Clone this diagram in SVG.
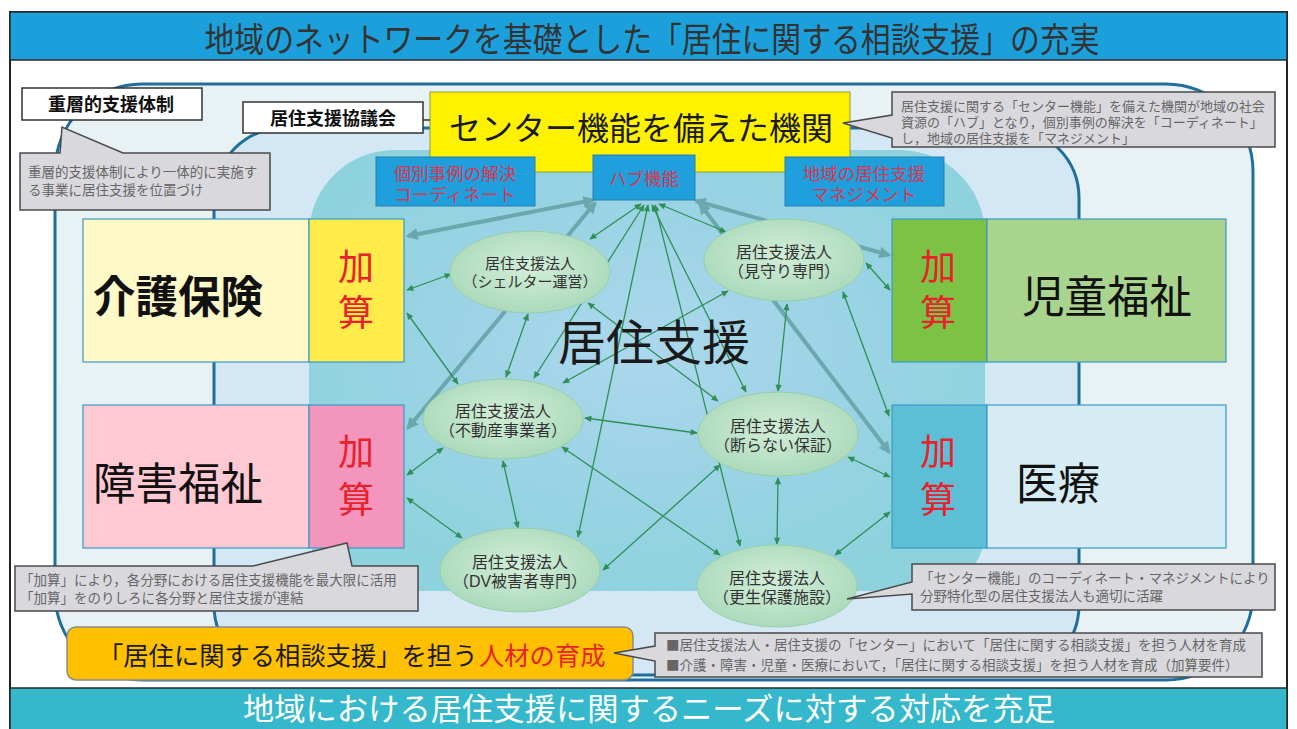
<svg xmlns="http://www.w3.org/2000/svg" width="1297" height="729" viewBox="0 0 1297 729">
<defs>
<style>
text{font-family:"Liberation Sans","Noto Sans CJK JP",sans-serif;}
.cl{fill:#d9d9dd;stroke:#4a4a4a;stroke-width:1.5}
.ct{font-size:13.5px;fill:#666}
.el{fill:url(#eg);stroke:#98cfac;stroke-width:1}
.et{font-size:16px;fill:#333;text-anchor:middle}
.bb{fill:#1f9fdc;stroke:#2a7fb0;stroke-width:1}
.bt{font-size:17.5px;fill:#d93651;text-anchor:middle}
.g{stroke:#2f8f57;stroke-width:1.3;fill:none;marker-start:url(#ga);marker-end:url(#ga)}
.t{stroke:#6ba8ae;stroke-width:4;fill:none;marker-start:url(#ta);marker-end:url(#ta)}
.ks{font-size:36px;fill:#e8222c;text-anchor:middle}
.cat{font-size:44px;fill:#111;text-anchor:middle}
.kb{stroke:#3b9ac6;stroke-width:1.2}
.wb{fill:#fff;stroke:#333;stroke-width:1.5}
</style>
<radialGradient id="eg" cx="0.5" cy="0.45" r="0.6">
<stop offset="0" stop-color="#d2eed9"/>
<stop offset="1" stop-color="#a8d8b8"/>
</radialGradient>
<radialGradient id="tg" cx="0.5" cy="0.45" r="0.6">
<stop offset="0" stop-color="#acd7ec"/>
<stop offset="0.6" stop-color="#98d3e3"/>
<stop offset="1" stop-color="#8dd2dc"/>
</radialGradient>
<marker id="ga" viewBox="0 0 10 10" refX="9" refY="5" markerWidth="8" markerHeight="7" markerUnits="userSpaceOnUse" orient="auto-start-reverse">
<path d="M0,0.5 L10,5 L0,9.5 z" fill="#2f8f57"/>
</marker>
<marker id="ta" viewBox="0 0 10 10" refX="8" refY="5" markerWidth="14" markerHeight="12" markerUnits="userSpaceOnUse" orient="auto-start-reverse">
<path d="M0,0 L10,5 L0,10 z" fill="#6ba8ae"/>
</marker>
</defs>

<rect x="0" y="0" width="1297" height="729" fill="#fff"/>
<rect x="10" y="12" width="1277" height="730" fill="#fff" stroke="#222" stroke-width="2"/>

<g id="header">
<rect x="10" y="12" width="1277" height="48" fill="#1ba0dc" stroke="#2a2a2a" stroke-width="1.5"/>
<text x="652" y="52" font-size="34" fill="#333" text-anchor="middle" textLength="895" lengthAdjust="spacingAndGlyphs">地域のネットワークを基礎とした「居住に関する相談支援」の充実</text>
</g>

<g id="rings">
<rect x="55" y="84" width="1198" height="596" rx="87" fill="#e8f1f4" stroke="#1f6e9e" stroke-width="3"/>
<rect x="214" y="128" width="865" height="547" rx="70" fill="#d3e7f4" stroke="#1f6e9e" stroke-width="3"/>
<path d="M394,150 L900,150 A85,85 0 0 1 985,235 L985,531 A60,60 0 0 1 925,591 L369,591 A60,60 0 0 1 309,531 L309,235 A85,85 0 0 1 394,150 Z" fill="url(#tg)"/>
</g>

<g id="kaigo">
<rect x="83" y="219" width="226" height="143" fill="#fff9c8" class="kb"/>
<rect x="309" y="219" width="95" height="143" fill="#ffeb4a" class="kb"/>
<text x="178" y="313" class="cat" font-weight="bold" textLength="170" lengthAdjust="spacingAndGlyphs">介護保険</text>
<text class="ks"><tspan x="356" y="280">加</tspan><tspan x="356" y="326">算</tspan></text>
</g>
<g id="shogai">
<rect x="83" y="405" width="226" height="143" fill="#ffc9d3" class="kb"/>
<rect x="309" y="405" width="95" height="143" fill="#f395bd" class="kb"/>
<text x="178" y="500" class="cat" textLength="170" lengthAdjust="spacingAndGlyphs">障害福祉</text>
<text class="ks"><tspan x="356" y="465">加</tspan><tspan x="356" y="513">算</tspan></text>
</g>
<g id="jido">
<rect x="892" y="219" width="95" height="143" fill="#7cc244" class="kb"/>
<rect x="987" y="219" width="239" height="143" fill="#a9d48e" class="kb"/>
<text x="1107" y="313" class="cat" textLength="170" lengthAdjust="spacingAndGlyphs">児童福祉</text>
<text class="ks"><tspan x="938" y="280">加</tspan><tspan x="938" y="326">算</tspan></text>
</g>
<g id="iryo">
<rect x="892" y="405" width="95" height="143" fill="#5cbfd6" class="kb"/>
<rect x="987" y="405" width="239" height="143" fill="#d5ecf4" class="kb"/>
<text x="1058" y="500" class="cat" textLength="84" lengthAdjust="spacingAndGlyphs">医療</text>
<text class="ks"><tspan x="938" y="465">加</tspan><tspan x="938" y="513">算</tspan></text>
</g>

<g id="connectors">
<line class="t" x1="593" y1="200" x2="408" y2="236"/>
<line class="t" x1="595" y1="203" x2="408" y2="428"/>
<line class="t" x1="696" y1="201" x2="889" y2="255"/>
<line class="t" x1="700" y1="204" x2="889" y2="452"/>
<line class="g" x1="641" y1="204" x2="590" y2="239"/>
<line class="g" x1="644" y1="205" x2="534" y2="378"/>
<line class="g" x1="648" y1="205" x2="578" y2="537"/>
<line class="g" x1="652" y1="205" x2="746" y2="392"/>
<line class="g" x1="655" y1="205" x2="740" y2="546"/>
<line class="g" x1="659" y1="204" x2="726" y2="232"/>
<line class="g" x1="407" y1="290" x2="451" y2="274"/>
<line class="g" x1="407" y1="313" x2="458" y2="384"/>
<line class="g" x1="528" y1="314" x2="506" y2="377"/>
<line class="g" x1="588" y1="303" x2="718" y2="401"/>
<line class="g" x1="728" y1="291" x2="563" y2="383"/>
<line class="g" x1="787" y1="304" x2="778" y2="391"/>
<line class="g" x1="866" y1="263" x2="890" y2="290"/>
<line class="g" x1="843" y1="292" x2="889" y2="416"/>
<line class="g" x1="585" y1="418" x2="697" y2="433"/>
<line class="g" x1="443" y1="448" x2="407" y2="475"/>
<line class="g" x1="503" y1="461" x2="518" y2="528"/>
<line class="g" x1="562" y1="447" x2="720" y2="555"/>
<line class="g" x1="407" y1="498" x2="462" y2="538"/>
<line class="g" x1="603" y1="570" x2="720" y2="465"/>
<line class="g" x1="848" y1="457" x2="890" y2="477"/>
<line class="g" x1="778" y1="478" x2="777" y2="544"/>
<line class="g" x1="835" y1="555" x2="890" y2="512"/>
</g>

<g id="n-shelter">
<ellipse cx="530" cy="272" rx="80" ry="41" class="el"/>
<text class="et" style="font-size:15px"><tspan x="530" y="269">居住支援法人</tspan><tspan x="530" y="287">（シェルター運営）</tspan></text>
</g>
<g id="n-mimamori">
<ellipse cx="784" cy="260" rx="80" ry="41" class="el"/>
<text class="et"><tspan x="784" y="258">居住支援法人</tspan><tspan x="784" y="277">（見守り専門）</tspan></text>
</g>
<g id="n-fudosan">
<ellipse cx="503" cy="419" rx="80" ry="40" class="el"/>
<text class="et"><tspan x="503" y="417">居住支援法人</tspan><tspan x="503" y="436">（不動産事業者）</tspan></text>
</g>
<g id="n-kotowaranai">
<ellipse cx="778" cy="434" rx="80" ry="42" class="el"/>
<text class="et"><tspan x="778" y="432">居住支援法人</tspan><tspan x="778" y="451">（断らない保証）</tspan></text>
</g>
<g id="n-dv">
<ellipse cx="520" cy="570" rx="80" ry="42" class="el"/>
<text class="et"><tspan x="520" y="568">居住支援法人</tspan><tspan x="520" y="587">（DV被害者専門）</tspan></text>
</g>
<g id="n-kosei">
<ellipse cx="777" cy="586" rx="80" ry="41" class="el"/>
<text class="et"><tspan x="777" y="584">居住支援法人</tspan><tspan x="777" y="603">（更生保護施設）</tspan></text>
</g>

<g id="center-label">
<text x="654" y="360" font-size="48" fill="#1a1a1a" text-anchor="middle">居住支援</text>
</g>

<g id="center-org">
<rect x="430" y="92" width="420" height="80" fill="#fff200" stroke="#8aa03a" stroke-width="1"/>
<text x="641" y="140" font-size="32" fill="#1a1a1a" text-anchor="middle">センター機能を備えた機関</text>
</g>
<g id="kyogikai">
<line x1="423" y1="120" x2="430" y2="120" stroke="#333" stroke-width="1.5"/>
<rect x="243" y="102" width="180" height="31" class="wb"/>
<text x="333" y="125" font-size="18" font-weight="bold" fill="#111" text-anchor="middle">居住支援協議会</text>
</g>
<g id="jusoteki">
<rect x="22" y="88" width="180" height="32" class="wb"/>
<text x="111" y="111" font-size="18" font-weight="bold" fill="#111" text-anchor="middle">重層的支援体制</text>
</g>

<g id="b-kobetsu">
<rect x="376" y="157" width="159" height="49" class="bb"/>
<text class="bt"><tspan x="455" y="179.5">個別事例の解決</tspan><tspan x="455" y="200.5">コーディネート</tspan></text>
</g>
<g id="b-hub">
<rect x="593" y="155" width="102" height="45" class="bb"/>
<text x="644" y="185" class="bt">ハブ機能</text>
</g>
<g id="b-manage">
<rect x="785" y="157" width="159" height="49" class="bb"/>
<text class="bt"><tspan x="864" y="179.5">地域の居住支援</tspan><tspan x="864" y="200.5">マネジメント</tspan></text>
</g>

<g id="callout-jusoteki">
<path d="M20,153 L60,153 L62,127 L123,153 L270,153 L270,210 L20,210 Z" class="cl"/>
<text class="ct"><tspan x="28" y="177">重層的支援体制により一体的に実施す</tspan><tspan x="28" y="195">る事業に居住支援を位置づけ</tspan></text>
</g>
<g id="callout-center">
<path d="M892,92 L1275,92 L1275,147 L892,147 L892,138 L843,123 L892,115 Z" class="cl"/>
<text class="ct" style="font-size:13px"><tspan x="901" y="111">居住支援に関する「センター機能」を備えた機関が地域の社会</tspan><tspan x="901" y="127">資源の「ハブ」となり，個別事例の解決を「コーディネート」</tspan><tspan x="901" y="143">し，地域の居住支援を「マネジメント」</tspan></text>
</g>
<g id="callout-kasan">
<path d="M15,566 L253,566 L347,543 L352,566 L418,566 L418,611 L15,611 Z" class="cl"/>
<text class="ct"><tspan x="20" y="585">「加算」により，各分野における居住支援機能を最大限に活用</tspan><tspan x="20" y="603">「加算」をのりしろに各分野と居住支援が連結</tspan></text>
</g>
<g id="callout-kosei">
<path d="M912,564 L1275,564 L1275,610 L912,610 L912,594 L847,599 L912,582 Z" class="cl"/>
<text class="ct"><tspan x="920" y="583">「センター機能」のコーディネート・マネジメントにより</tspan><tspan x="920" y="601">分野特化型の居住支援法人も適切に活躍</tspan></text>
</g>

<g id="jinzai">
<rect x="67" y="627" width="566" height="53" rx="9" fill="#ffc000" stroke="#8c8c8c" stroke-width="1.5"/>
<text x="98" y="665" font-size="25.3" fill="#1a1a1a">「居住に関する相談支援」を担う</text>
<text x="479" y="665" font-size="25.3" fill="#e8222c">人材の育成</text>
</g>
<g id="callout-jinzai">
<path d="M655,633 L1262,633 L1262,677 L655,677 L655,661 L614,653 L655,646 Z" class="cl"/>
<text class="ct" style="font-family:'Noto Sans CJK JP',sans-serif"><tspan x="666" y="650">■居住支援法人・居住支援の「センター」において「居住に関する相談支援」を担う人材を育成</tspan><tspan x="666" y="670">■介護・障害・児童・医療において，「居住に関する相談支援」を担う人材を育成（加算要件）</tspan></text>
</g>

<g id="footer">
<rect x="10" y="688" width="1277" height="50" fill="#35b8cb" stroke="#2a2a2a" stroke-width="1.5"/>
<text x="649" y="720" font-size="31" fill="#fff" text-anchor="middle" textLength="812" lengthAdjust="spacingAndGlyphs">地域における居住支援に関するニーズに対する対応を充足</text>
</g>
</svg>
